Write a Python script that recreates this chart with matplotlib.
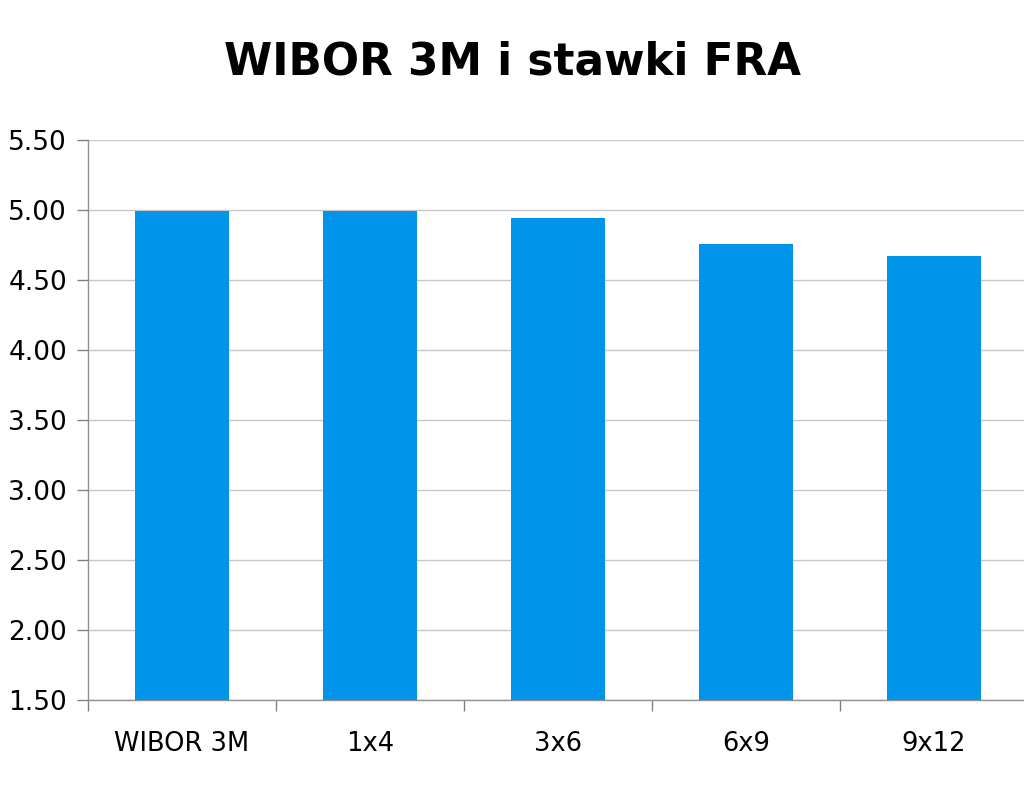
import numpy as np
import matplotlib.pyplot as plt

# data
categories = ["WIBOR 3M", "1x4", "3x6", "6x9", "9x12"]
rates = [4.99, 4.99, 4.94, 4.76, 4.67]
yticks = [1.50, 2.00, 2.50, 3.00, 3.50, 4.00, 4.50, 5.00, 5.50]

plt.rcParams['font.family'] = ['DejaVu Sans']

fig = plt.figure(figsize=(10.24, 7.91), dpi=100)
ax = fig.add_axes([88 / 1024, 91 / 791, 940 / 1024, 560 / 791])

x = np.arange(len(categories))
ax.bar(x, rates, width=0.5, color='#0094EA', zorder=3)

ax.set_ylim(1.5, 5.5)
ax.set_xlim(-0.5, len(categories) - 0.5)
ax.set_yticks(yticks)
ax.set_yticklabels(["%.2f" % v for v in yticks], fontsize=19)
ax.yaxis.grid(True, color='#C8C8C8', linewidth=1, zorder=0)

# category labels centred under bars, ticks on boundaries
ax.set_xticks(x)
ax.set_xticklabels(categories, fontsize=18.5)
ax.tick_params(axis='x', length=0, pad=22)
ax.set_xticks(np.arange(len(categories)) - 0.5, minor=True)
ax.tick_params(axis='x', which='minor', length=8, color='#808080', width=1)
ax.tick_params(axis='y', length=8, color='#808080', width=1, pad=7)

for side in ['top', 'right']:
    ax.spines[side].set_visible(False)
for side in ['left', 'bottom']:
    ax.spines[side].set_color('#909090')
    ax.spines[side].set_linewidth(1)

fig.text(0.5, 0.922, "WIBOR 3M i stawki FRA", ha='center', va='center',
         fontsize=31.5, fontweight='bold')

plt.savefig("out.png", dpi=100)
